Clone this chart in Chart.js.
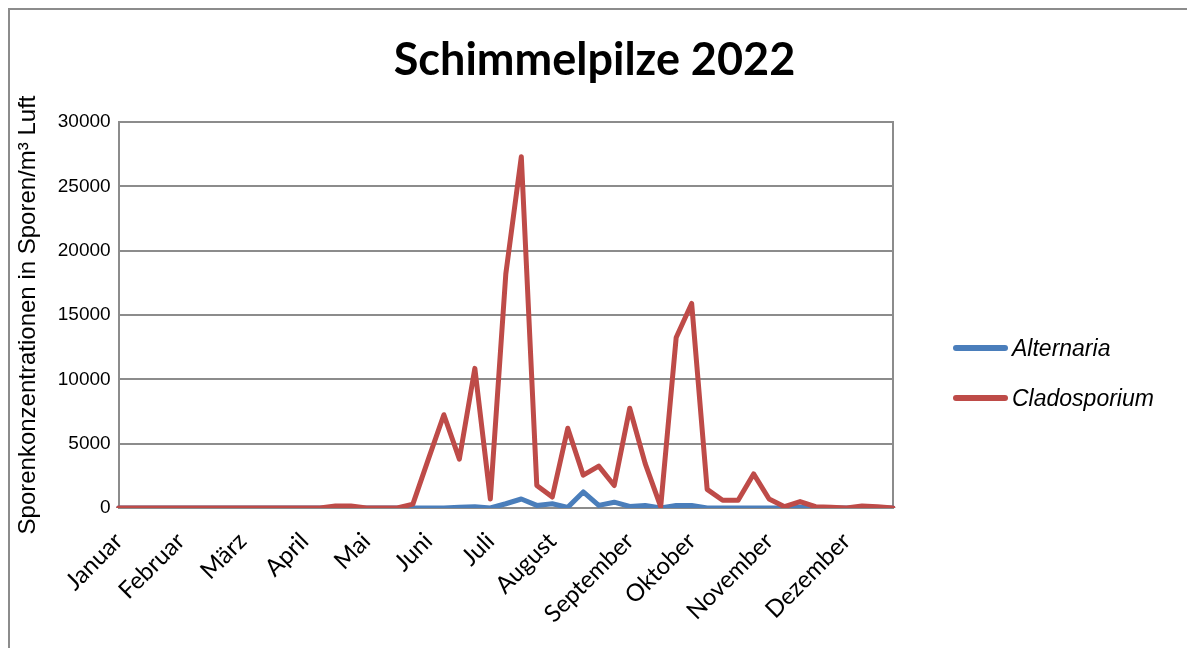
<!DOCTYPE html>
<html>
<head>
<meta charset="utf-8">
<script src="https://cdn.jsdelivr.net/npm/chart.js@4.4.1/dist/chart.umd.min.js"></script>
<style>
  html, body { margin: 0; padding: 0; background: #fff; }
  #wrap { position: relative; width: 1187px; height: 648px; overflow: hidden; }
  #frame { position: absolute; left: 8px; top: 8px; width: 1300px; height: 800px; border: 2px solid #8c8c8c; }
  canvas { position: absolute; left: 0; top: 0; }
  #legend { position: absolute; left: 953px; top: 323px; font: italic 23px "Liberation Sans", Arial, sans-serif; color: #000; }
  #legend .item { display: flex; align-items: center; height: 50px; }
  #legend .swatch { width: 55px; height: 6px; border-radius: 3px; margin-right: 4px; }
</style>
</head>
<body>
<div id="wrap">
  <div id="frame"></div>
  <canvas id="chart" width="1187" height="648"></canvas>
  <div id="legend"></div>
</div>
<script>
// one entry per week, month name on the first week of each month
const weeks = [
  'Januar', '', '', '', 'Februar', '', '', '', 'März', '', '', '', 'April', '', '', '',
  'Mai', '', '', '', 'Juni', '', '', '', 'Juli', '', '', '', 'August', '', '', '', '',
  'September', '', '', '', 'Oktober', '', '', '', '', 'November', '', '', '', '',
  'Dezember', '', '', ''
];

const alternaria = [
  0, 0, 0, 0, 0, 0, 0, 0, 0, 0, 0, 0, 0, 0, 0, 0, 0, 0, 0, 0, 0, 0, 50,
  100, 0, 330, 700, 200, 330, 50, 1250, 200, 450, 120, 200, 0, 200, 200, 0,
  0, 0, 0, 0, 0, 80, 0, 0, 0, 0, 0, 0
];

const cladosporium = [
  0, 0, 0, 0, 0, 0, 0, 0, 0, 0, 0, 0, 0, 0, 150, 150, 0, 0, 0, 300,
  3800, 7250, 3800, 10850, 700, 18200, 27300, 1750, 850, 6200,
  2550, 3250, 1750, 7750, 3450, 100, 13250, 15900, 1450, 600,
  600, 2650, 700, 100, 500, 100, 50, 0, 150, 100, 0
];

const yTicks = { min: 0, max: 30000, step: 5000 };

const gray = '#8c8c8c';

const ctx = document.getElementById('chart').getContext('2d');

const chart = new Chart(ctx, {
  type: 'line',
  data: {
    labels: weeks,
    datasets: [{
      label: 'Alternaria',
      data: alternaria,
      borderColor: '#4a7ebb',
      order: 2
    }, {
      label: 'Cladosporium',
      data: cladosporium,
      borderColor: '#be4b48',
      order: 1
    }]
  },
  options: {
    responsive: false,
    animation: false,
    devicePixelRatio: 1,
    layout: { padding: { left: 2, right: 0, top: 0, bottom: 0 } },
    elements: {
      line: { borderWidth: 5, tension: 0, fill: false, borderJoinStyle: 'round', borderCapStyle: 'round' },
      point: { radius: 0, hoverRadius: 0 }
    },
    scales: {
      x: {
        offset: false,
        grid: { display: false, drawTicks: false },
        border: { display: true, color: gray, width: 2 },
        ticks: {
          autoSkip: false,
          maxRotation: 45,
          minRotation: 45,
          padding: 19,
          color: '#000',
          font: { family: 'Lato', size: 24 }
        },
        afterFit: s => { s.height = 140; }
      },
      y: {
        min: yTicks.min,
        max: yTicks.max,
        grid: { color: gray, lineWidth: 2, drawTicks: false },
        border: { display: true, color: gray, width: 2 },
        ticks: {
          stepSize: yTicks.step,
          padding: 8,
          color: '#000',
          font: { family: 'Liberation Sans', size: 19 },
          callback: v => String(v)
        },
        title: {
          display: true,
          text: 'Sporenkonzentrationen in Sporen/m³ Luft',
          color: '#000',
          font: { family: 'Liberation Sans', size: 24 },
          padding: { top: 12, bottom: 7 }
        }
      },
      // right frame line of the plot, plus the room the legend sits in
      y2: {
        position: 'right',
        grid: { display: false, drawTicks: false },
        border: { display: true, color: gray, width: 2 },
        ticks: { display: false },
        afterFit: s => { s.width = 294; }
      }
    },
    plugins: {
      title: {
        display: true,
        text: 'Schimmelpilze 2022',
        color: '#000',
        font: { family: 'Lato', weight: 'bold', size: 45 },
        padding: { top: 33, bottom: 35 }
      },
      legend: { display: false },
      tooltip: { enabled: false }
    }
  }
});

// legend as real text next to the plot
const legend = document.getElementById('legend');
chart.data.datasets.forEach(ds => {
  const item = document.createElement('div');
  item.className = 'item';
  const sw = document.createElement('span');
  sw.className = 'swatch';
  sw.style.background = ds.borderColor;
  const txt = document.createElement('span');
  txt.textContent = ds.label;
  item.appendChild(sw);
  item.appendChild(txt);
  legend.appendChild(item);
});
</script>
</body>
</html>
